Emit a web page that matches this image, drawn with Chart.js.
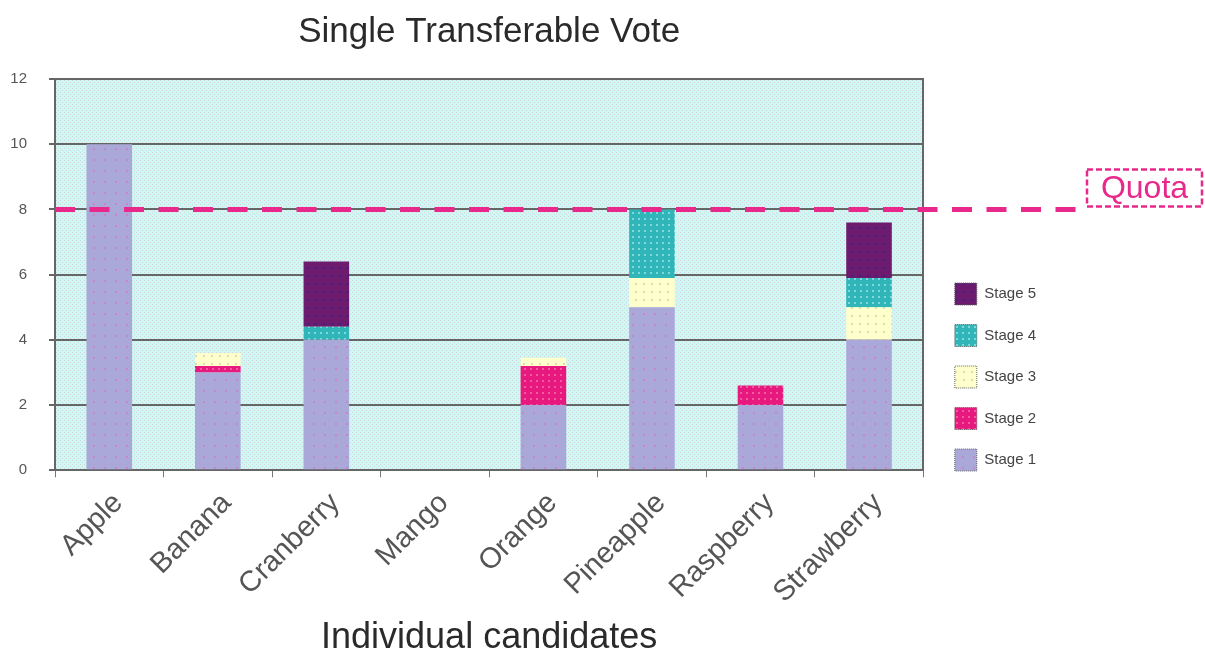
<!DOCTYPE html>
<html><head><meta charset="utf-8">
<script src="https://cdn.jsdelivr.net/npm/chart.js@4"></script>
<style>html,body{margin:0;padding:0;background:#fff}#wrap{width:1205px;height:656px}</style>
</head><body><div id="wrap"><canvas id="c" width="1205" height="656"></canvas></div>
<script>
const categories = ['Apple','Banana','Cranberry','Mango','Orange','Pineapple','Raspberry','Strawberry'];
const stage1 = [10, 3, 4, 0, 2, 5, 2, 4];
const stage2 = [0, 0.2, 0, 0, 1.2, 0, 0.6, 0];
const stage3 = [0, 0.4, 0, 0, 0.25, 0.9, 0, 1.0];
const stage4 = [0, 0, 0.4, 0, 0, 2.1, 0, 0.9];
const stage5 = [0, 0, 2.0, 0, 0, 0, 0, 1.7];
const quota = 8;
const quotaLabel = 'Quota';

const FONT = "'Liberation Sans', Arial, sans-serif";

function makePattern(bg, dot, step, dots) {
  const c = document.createElement('canvas');
  c.width = step; c.height = step;
  const g = c.getContext('2d');
  g.fillStyle = bg; g.fillRect(0, 0, step, step);
  g.fillStyle = dot;
  dots.forEach(d => g.fillRect(d[0], d[1], d[2] || 1, d[3] || 1));
  return g.createPattern(c, 'repeat');
}
const ctx = document.getElementById('c').getContext('2d');
const bgPattern = makePattern('#cdf8f5', '#d6d6d6', 4, [[0,0],[2,2]]);
const p1 = makePattern('#aaa8d9', '#c488c6', 11, [[5,5,2,2]]);
const p2 = makePattern('#e8197e', '#f05aa0', 6, [[2,2,2,2]]);
const p3 = makePattern('#ffffcc', '#dcdcb4', 8, [[3,3,2,2]]);
const p4 = makePattern('#30b6b8', '#7fd8da', 6, [[2,2,2,2]]);
const p5 = makePattern('#6c1b6e', '#3f2278', 8, [[3,3,2,2]]);

const plotBg = {
  id: 'plotBg',
  beforeDraw(chart) {
    const a = chart.chartArea, c = chart.ctx;
    c.save(); c.fillStyle = bgPattern;
    c.fillRect(a.left, a.top, a.right - a.left, a.bottom - a.top);
    c.restore();
  }
};

const quotaLine = {
  id: 'quotaLine',
  afterDraw(chart) {
    const a = chart.chartArea, c = chart.ctx;
    const y = chart.scales.y.getPixelForValue(quota);
    const xEnd = chart.width - 120;
    c.save();
    c.strokeStyle = '#e8288a';
    c.lineWidth = 5;
    c.setLineDash([20, 14.5]);
    c.beginPath(); c.moveTo(a.left, y); c.lineTo(xEnd, y); c.stroke();
    const bx = xEnd + 2, bw = 115, bh = 37, by = y - 3 - bh;
    c.setLineDash([6, 3]);
    c.lineWidth = 2.5;
    c.strokeRect(bx, by, bw, bh);
    c.setLineDash([]);
    c.fillStyle = '#e8288a';
    c.font = '32px ' + FONT;
    c.textAlign = 'center'; c.textBaseline = 'middle';
    c.fillText(quotaLabel, bx + bw / 2, by + bh / 2 + 1);
    c.restore();
  }
};

new Chart(ctx, {
  type: 'bar',
  data: {
    labels: categories,
    datasets: [
      { label: 'Stage 1', data: stage1, backgroundColor: p1, borderWidth: 0 },
      { label: 'Stage 2', data: stage2, backgroundColor: p2, borderWidth: 0 },
      { label: 'Stage 3', data: stage3, backgroundColor: p3, borderWidth: 0 },
      { label: 'Stage 4', data: stage4, backgroundColor: p4, borderWidth: 0 },
      { label: 'Stage 5', data: stage5, backgroundColor: p5, borderWidth: 0 }
    ]
  },
  options: {
    responsive: false,
    animation: false,
    datasets: { bar: { categoryPercentage: 1, barPercentage: 0.42 } },
    layout: { padding: { left: 0, right: 159, top: 0, bottom: 0 } },
    plugins: {
      title: { display: true, text: 'Single Transferable Vote', fullSize: false,
        font: { family: FONT, size: 35, weight: 'normal' }, color: '#2a2a2a',
        padding: { top: 11, bottom: 26 } },
      legend: { position: 'right', fullSize: true, align: 'center', reverse: true,
        title: { display: true, text: '', font: { size: 10 }, padding: { top: 0, bottom: 86 } },
        labels: { boxWidth: 22, boxHeight: 22, padding: 19.5,
          font: { family: FONT, size: 15 }, color: '#444',
          generateLabels(chart) {
            return Chart.defaults.plugins.legend.labels.generateLabels(chart).map(it => {
              it.lineWidth = 1; it.strokeStyle = '#666'; it.lineDash = [1, 1];
              return it;
            });
          } } },
      tooltip: { enabled: false }
    },
    scales: {
      x: {
        stacked: true,
        grid: { offset: true, drawOnChartArea: false, tickLength: 7, color: '#777', lineWidth: 1 },
        border: { display: true, color: '#666', width: 2 },
        ticks: { color: '#555', font: { family: FONT, size: 29 }, minRotation: 45, maxRotation: 45, padding: 9, labelOffset: 9 },
        title: { display: true, text: 'Individual candidates', color: '#2a2a2a',
          font: { family: FONT, size: 36, lineHeight: 1 }, padding: { top: 1, bottom: 0 } }
      },
      y: {
        stacked: true, min: 0, max: 12,
        afterFit(s) { s.width = 55; },
        ticks: { stepSize: 2, color: '#555', font: { family: FONT, size: 15 }, padding: 22 },
        grid: { color: '#666', lineWidth: 2, tickLength: 6 },
        border: { display: true, color: '#666', width: 2 }
      },
      y2: {
        position: 'right', min: 0, max: 12,
        ticks: { display: false },
        grid: { drawOnChartArea: false, tickLength: 12, color: 'rgba(0,0,0,0)' },
        border: { display: true, color: '#666', width: 2 }
      }
    }
  },
  plugins: [plotBg, quotaLine]
});
</script>
</body></html>
